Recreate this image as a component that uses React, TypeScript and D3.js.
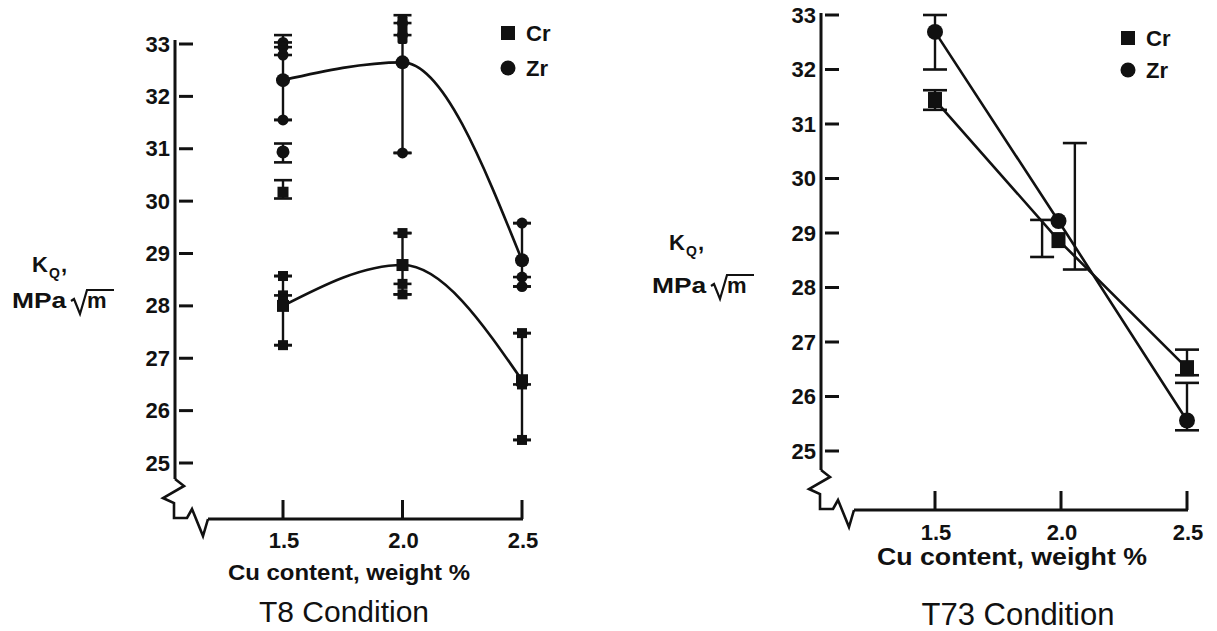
import React from 'react';
import * as d3 from 'd3';

// ---- shared axes ----
const cuContent = [1.5, 2.0, 2.5];
const xTickLabels = ['1.5', '2.0', '2.5'];
const kqTicks = [25, 26, 27, 28, 29, 30, 31, 32, 33];

// ---- T8 condition ----
const t8CrMean = [28.0, 28.78, 26.58];
const t8ZrMean = [32.31, 32.65, 28.87];
const t8CrSpecimens = [[28.57, 28.2, 27.25], [29.39, 28.42, 28.22], [27.48, 26.5, 25.44]];
const t8ZrSpecimens = [[33.03, 32.94, 32.79, 31.55], [33.4, 33.17, 30.92], [29.58, 28.55, 28.37]];
const t8CrRange = [[27.25, 28.57], [28.22, 29.39], [25.44, 27.48]];
const t8ZrRange = [[31.55, 33.17], [30.92, 33.55], [28.37, 29.58]];
// repeat batch tested at 1.5 % Cu
const t8RepeatCu = [1.5];
const t8RepeatZr = [30.94];
const t8RepeatZrRange = [[30.74, 31.1]];
const t8RepeatCr = [30.17];
const t8RepeatCrRange = [[30.05, 30.4]];
// overlapping upper whisker at 2.0 % Cu
const t8ZrBandCu = [2.0];
const t8ZrBand = [[33.0, 33.55]];

// ---- T73 condition ----
const t73MarkCu = [1.5, 1.99, 2.5];
const t73CrMean = [31.44, 28.87, 26.52];
const t73ZrMean = [32.69, 29.22, 25.56];
const t73CrBarCu = [1.5, 1.925, 2.5];
const t73ZrBarCu = [1.5, 2.055, 2.5];
const t73CrRange = [[31.26, 31.62], [28.56, 29.24], [26.39, 26.86]];
const t73ZrRange = [[32.0, 33.0], [28.33, 30.65], [25.38, 26.25]];

const FONT = '"Liberation Sans", Arial, Helvetica, sans-serif';
const INK = '#111';

type Layout = {
  xRange: [number, number];
  yRange: [number, number];
  axisX: number;
  axisY: number;
  axisTop: number;
  tickLen: number;
  xLabelBase: number;
  titleX: number;
  titleBase: number;
  titleLen: number;
  titleSize: number;
  condX: number;
  condBase: number;
  condSize: number;
  legendX: number;
  legendY: [number, number];
  kX: number;
  kBase: number;
  mpaX: number;
  mpaBase: number;
  sq: number;
  r: number;
};

const LEFT: Layout = {
  xRange: [283, 522], yRange: [463, 44], axisX: 175, axisY: 519, axisTop: 40,
  tickLen: 19, xLabelBase: 548, titleX: 228, titleBase: 580, titleLen: 242, titleSize: 22,
  condX: 344, condBase: 622, condSize: 30, legendX: 508, legendY: [33, 68],
  kX: 32, kBase: 272, mpaX: 12, mpaBase: 308, sq: 12, r: 7,
};

const RIGHT: Layout = {
  xRange: [935, 1187], yRange: [451, 15], axisX: 821, axisY: 510, axisTop: 13,
  tickLen: 19, xLabelBase: 540, titleX: 877, titleBase: 565, titleLen: 270, titleSize: 23,
  condX: 1018, condBase: 625, condSize: 31, legendX: 1128, legendY: [38, 70],
  kX: 669, kBase: 250, mpaX: 652, mpaBase: 293, sq: 13, r: 8,
};

// axis break (zig-zag) relative to the axis corner
const BREAK: [number, number][] = [
  [0, -40], [9, -33], [-12, -21], [-1, -16], [-1, -1], [12, -1], [17, -10], [28, 17], [33, 0],
];

function Square({ cx, cy, s }: { cx: number; cy: number; s: number }) {
  return <rect x={cx - s / 2} y={cy - s / 2} width={s} height={s} fill={INK} />;
}

function Cap({ cx, cy, w }: { cx: number; cy: number; w: number }) {
  return <line x1={cx - w / 2} x2={cx + w / 2} y1={cy} y2={cy} stroke={INK} strokeWidth={2.6} />;
}

function ErrorBar({ cx, lo, hi, w }: { cx: number; lo: number; hi: number; w: number }) {
  return (
    <g>
      <line x1={cx} x2={cx} y1={lo} y2={hi} stroke={INK} strokeWidth={2.4} />
      <Cap cx={cx} cy={lo} w={w} />
      <Cap cx={cx} cy={hi} w={w} />
    </g>
  );
}

function Frame({ L }: { L: Layout }) {
  const x = d3.scaleLinear().domain([1.5, 2.5]).range(L.xRange);
  const y = d3.scaleLinear().domain([25, 33]).range(L.yRange);
  const brk = d3.line()(BREAK.map(([dx, dy]) => [L.axisX + dx, L.axisY + dy]))!;
  const xStart = L.axisX + BREAK[BREAK.length - 1][0];
  return (
    <g fontFamily={FONT} fill={INK}>
      <line x1={L.axisX} x2={L.axisX} y1={L.axisTop} y2={L.axisY - 40} stroke={INK} strokeWidth={3} />
      <path d={brk} fill="none" stroke={INK} strokeWidth={2.6} strokeLinejoin="miter" />
      <line x1={xStart} x2={L.xRange[1] + 1} y1={L.axisY} y2={L.axisY} stroke={INK} strokeWidth={3} />
      {kqTicks.map((t) => (
        <g key={t}>
          <line x1={L.axisX + 4} x2={L.axisX + 18} y1={y(t)} y2={y(t)} stroke={INK} strokeWidth={3} />
          <text x={L.axisX - 5} y={y(t)} textAnchor="end" dominantBaseline="central" fontSize={22} fontWeight="bold">
            {t}
          </text>
        </g>
      ))}
      {cuContent.map((c, i) => (
        <g key={c}>
          <line x1={x(c)} x2={x(c)} y1={L.axisY} y2={L.axisY - L.tickLen} stroke={INK} strokeWidth={3} />
          <text x={x(c) + 1} y={L.xLabelBase} textAnchor="middle" fontSize={22} fontWeight="bold">
            {xTickLabels[i]}
          </text>
        </g>
      ))}
      <text x={L.titleX} y={L.titleBase} fontSize={L.titleSize} fontWeight="bold" textLength={L.titleLen} lengthAdjust="spacingAndGlyphs">
        Cu content, weight %
      </text>
      {/* K_Q, MPa√m */}
      <text x={L.kX} y={L.kBase} fontSize={22} fontWeight="bold">K</text>
      <text x={L.kX + 17} y={L.kBase + 6} fontSize={14} fontWeight="bold">Q</text>
      <text x={L.kX + 29} y={L.kBase} fontSize={22} fontWeight="bold">,</text>
      <text transform={`translate(${L.mpaX},${L.mpaBase}) scale(1.2,1)`} fontSize={22} fontWeight="bold">MPa</text>
      <path
        d={`M${L.mpaX + 59},${L.mpaBase - 7} L${L.mpaX + 62},${L.mpaBase - 9} L${L.mpaX + 68},${L.mpaBase + 6} L${L.mpaX + 75},${L.mpaBase - 18} L${L.mpaX + 102},${L.mpaBase - 18}`}
        fill="none" stroke={INK} strokeWidth={2.2}
      />
      <text x={L.mpaX + 75} y={L.mpaBase} fontSize={22} fontWeight="bold">m</text>
      {/* legend */}
      <Square cx={L.legendX} cy={L.legendY[0]} s={14} />
      <text x={L.legendX + 18} y={L.legendY[0]} dominantBaseline="central" fontSize={22} fontWeight="bold">Cr</text>
      <circle cx={L.legendX} cy={L.legendY[1]} r={7.5} fill={INK} />
      <text x={L.legendX + 18} y={L.legendY[1]} dominantBaseline="central" fontSize={22} fontWeight="bold">Zr</text>
    </g>
  );
}

function T8Panel() {
  const L = LEFT;
  const x = d3.scaleLinear().domain([1.5, 2.5]).range(L.xRange);
  const y = d3.scaleLinear().domain([25, 33]).range(L.yRange);
  const curve = d3.line<[number, number]>().x((d) => x(d[0])).y((d) => y(d[1])).curve(d3.curveMonotoneX);
  const crPath = curve(cuContent.map((c, i) => [c, t8CrMean[i]]))!;
  const zrPath = curve(cuContent.map((c, i) => [c, t8ZrMean[i]]))!;
  return (
    <g>
      <Frame L={L} />
      <path d={zrPath} fill="none" stroke={INK} strokeWidth={2.6} />
      <path d={crPath} fill="none" stroke={INK} strokeWidth={2.6} />
      {cuContent.map((c, i) => (
        <g key={'zr' + c}>
          <ErrorBar cx={x(c)} lo={y(t8ZrRange[i][0])} hi={y(t8ZrRange[i][1])} w={18} />
          {t8ZrSpecimens[i].map((v, j) => (
            <g key={j}>
              <circle cx={x(c)} cy={y(v)} r={5.5} fill={INK} />
              <Cap cx={x(c)} cy={y(v)} w={18} />
            </g>
          ))}
          <circle cx={x(c)} cy={y(t8ZrMean[i])} r={L.r} fill={INK} />
        </g>
      ))}
      {t8ZrBandCu.map((c, i) => (
        <rect key={'band' + c} x={x(c) - 5} y={y(t8ZrBand[i][1])} width={10} height={y(t8ZrBand[i][0]) - y(t8ZrBand[i][1])} rx={2} fill={INK} />
      ))}
      {cuContent.map((c, i) => (
        <g key={'cr' + c}>
          <ErrorBar cx={x(c)} lo={y(t8CrRange[i][0])} hi={y(t8CrRange[i][1])} w={18} />
          {t8CrSpecimens[i].map((v, j) => (
            <g key={j}>
              <Square cx={x(c)} cy={y(v)} s={10} />
              <Cap cx={x(c)} cy={y(v)} w={18} />
            </g>
          ))}
          <Square cx={x(c)} cy={y(t8CrMean[i])} s={L.sq} />
        </g>
      ))}
      {t8RepeatCu.map((c, i) => (
        <g key={'rep' + c}>
          <ErrorBar cx={x(c)} lo={y(t8RepeatZrRange[i][0])} hi={y(t8RepeatZrRange[i][1])} w={18} />
          <circle cx={x(c)} cy={y(t8RepeatZr[i])} r={6.5} fill={INK} />
          <ErrorBar cx={x(c)} lo={y(t8RepeatCrRange[i][0])} hi={y(t8RepeatCrRange[i][1])} w={18} />
          <Square cx={x(c)} cy={y(t8RepeatCr[i])} s={11} />
        </g>
      ))}
      <text x={L.condX} y={L.condBase} textAnchor="middle" fontFamily={FONT} fontSize={L.condSize} fill={INK}>
        T8 Condition
      </text>
    </g>
  );
}

function T73Panel() {
  const L = RIGHT;
  const x = d3.scaleLinear().domain([1.5, 2.5]).range(L.xRange);
  const y = d3.scaleLinear().domain([25, 33]).range(L.yRange);
  const line = d3.line<[number, number]>().x((d) => x(d[0])).y((d) => y(d[1]));
  const crPath = line(t73MarkCu.map((c, i) => [c, t73CrMean[i]]))!;
  const zrPath = line(t73MarkCu.map((c, i) => [c, t73ZrMean[i]]))!;
  return (
    <g>
      <Frame L={L} />
      <path d={zrPath} fill="none" stroke={INK} strokeWidth={2.6} />
      <path d={crPath} fill="none" stroke={INK} strokeWidth={2.6} />
      {t73CrBarCu.map((c, i) => (
        <ErrorBar key={'crb' + c} cx={x(c)} lo={y(t73CrRange[i][0])} hi={y(t73CrRange[i][1])} w={24} />
      ))}
      {t73ZrBarCu.map((c, i) => (
        <ErrorBar key={'zrb' + c} cx={x(c)} lo={y(t73ZrRange[i][0])} hi={y(t73ZrRange[i][1])} w={24} />
      ))}
      {t73MarkCu.map((c, i) => (
        <g key={'m' + c}>
          <rect x={x(c) - 7} y={y(t73CrMean[i]) - 8} width={14} height={16} fill={INK} />
          <circle cx={x(c)} cy={y(t73ZrMean[i])} r={L.r} fill={INK} />
        </g>
      ))}
      <text x={L.condX} y={L.condBase} textAnchor="middle" fontFamily={FONT} fontSize={L.condSize} fill={INK}>
        T73 Condition
      </text>
    </g>
  );
}

export default function App() {
  return (
    <svg
      width={1217}
      height={631}
      viewBox="0 0 1217 631"
      style={{ position: 'absolute', left: 0, top: 0, background: '#fff' }}
    >
      <rect width={1217} height={631} fill="#fff" />
      <T8Panel />
      <T73Panel />
    </svg>
  );
}
